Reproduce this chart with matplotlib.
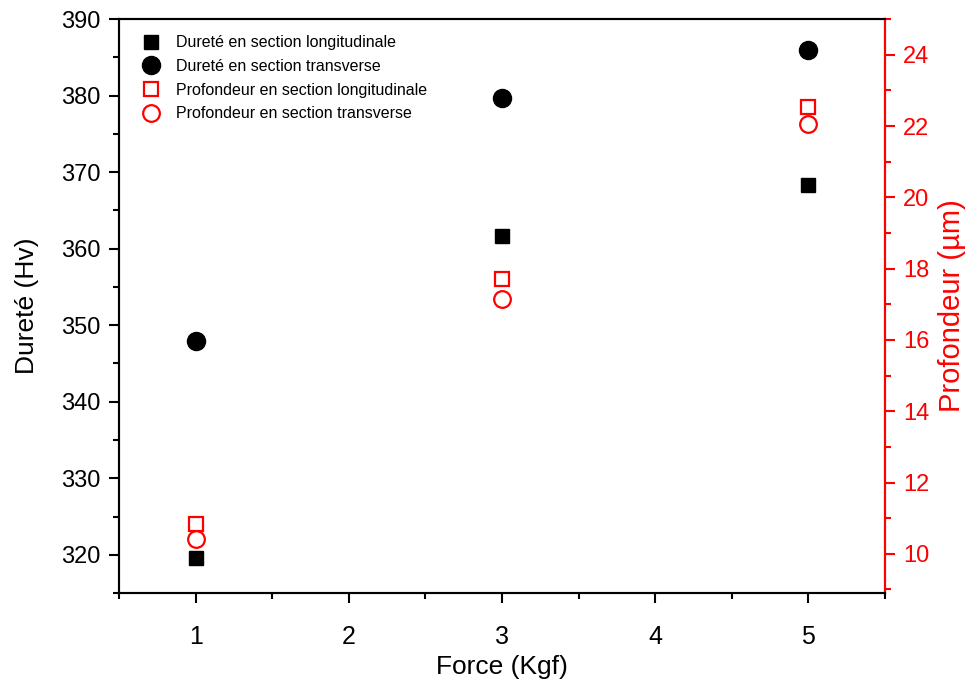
import matplotlib
matplotlib.use("Agg")
from matplotlib import pyplot as plt
from matplotlib.ticker import MultipleLocator

plt.rcParams['font.family'] = ['Liberation Sans', 'DejaVu Sans']

# force appliquee (Kgf)
force = [1, 3, 5]
# durete (Hv)
durete_long = [319.6, 361.7, 368.3]
durete_trans = [348.0, 379.7, 386.0]
# profondeur (um)
prof_long = [10.85, 17.7, 22.53]
prof_trans = [10.41, 17.15, 22.06]

fig = plt.figure(figsize=(9.72, 6.84), dpi=100)
ax = fig.add_axes([0.1224, 0.133, 0.788, 0.839])
ax2 = ax.twinx()

h1, = ax.plot(force, durete_long, 's', color='black', markersize=10, linestyle='none',
              label='Dureté en section longitudinale')
h2, = ax.plot(force, durete_trans, 'o', color='black', markersize=13, linestyle='none',
              label='Dureté en section transverse')
h3, = ax2.plot(force, prof_long, 's', mfc='none', mec='red', mew=1.6, markersize=10,
               linestyle='none', label='Profondeur en section longitudinale')
h4, = ax2.plot(force, prof_trans, 'o', mfc='none', mec='red', mew=1.6, markersize=12,
               linestyle='none', label='Profondeur en section transverse')

ax.set_xlim(0.5, 5.5)
ax.set_ylim(315, 390)
ax2.set_ylim(8.9, 25)

ax.xaxis.set_major_locator(MultipleLocator(1))
ax.xaxis.set_minor_locator(MultipleLocator(0.5))
ax.yaxis.set_major_locator(MultipleLocator(10))
ax.yaxis.set_minor_locator(MultipleLocator(5))
ax2.yaxis.set_major_locator(MultipleLocator(2))
ax2.yaxis.set_minor_locator(MultipleLocator(1))

for s in ax.spines.values():
    s.set_linewidth(1.5)
for s in ax2.spines.values():
    s.set_linewidth(1.5)
ax2.spines['right'].set_color('red')

ax.tick_params(which='major', direction='out', length=7, width=1.5, labelsize=17, pad=6)
ax.tick_params(which='minor', direction='out', length=4, width=1.5)
ax.tick_params(axis='x', which='major', labelsize=18, pad=16)
ax2.tick_params(which='major', direction='out', length=7, width=1.5, labelsize=17,
                colors='red', pad=6)
ax2.tick_params(which='minor', direction='out', length=4, width=1.5, colors='red')

ax.set_xlabel('Force (Kgf)', fontsize=19, labelpad=4)
ax.set_ylabel('Dureté (Hv)', fontsize=19, labelpad=16)
ax2.set_ylabel('Profondeur (µm)', fontsize=21, color='red', labelpad=6)

ax2.legend(handles=[h1, h2, h3, h4], loc='upper left', bbox_to_anchor=(0.0, 1.0),
           frameon=False, fontsize=11.5, labelspacing=0.55, handletextpad=0.6,
           borderaxespad=0.6, numpoints=1)

fig.savefig('out.png', dpi=100)
